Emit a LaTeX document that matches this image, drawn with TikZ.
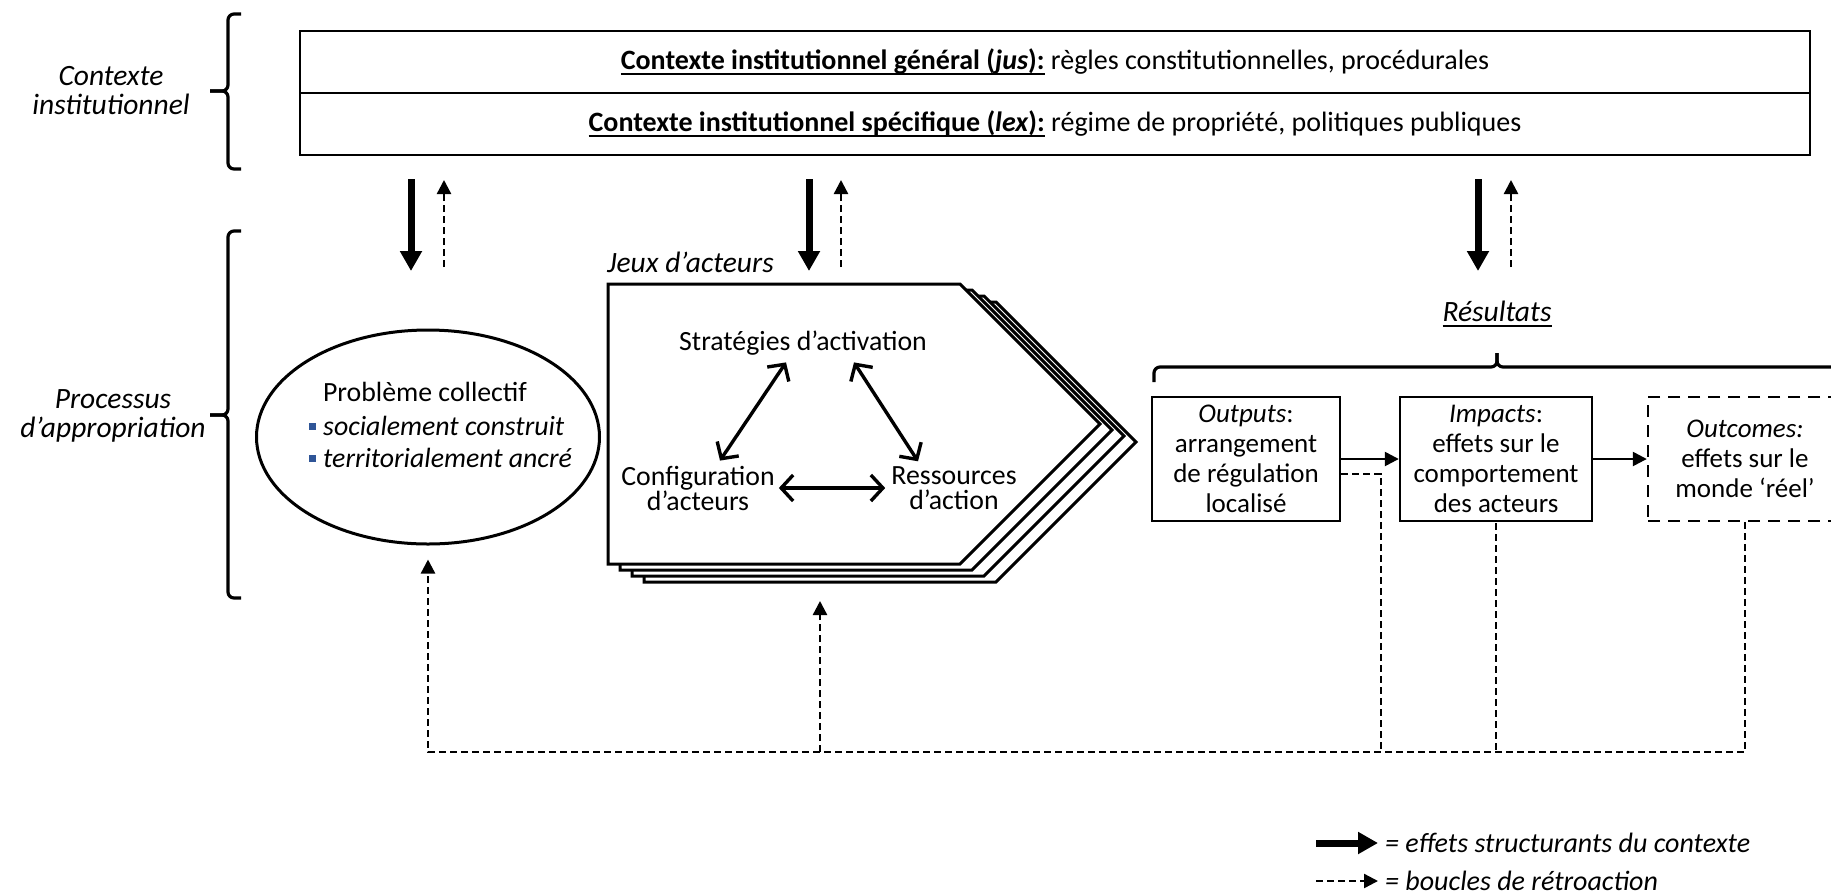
\documentclass[tikz,border=0pt]{standalone}
\usepackage{fontspec}
\setmainfont{Carlito}
\usetikzlibrary{arrows.meta,shapes.geometric,calc}
\definecolor{bulletblue}{RGB}{47,85,151}
\newcommand{\sqbullet}{\textcolor{bulletblue}{\rule[6pt]{7pt}{7pt}}\hspace{7pt}}
% thick underline drawn as a rule below the text box
\newcommand{\thickul}[1]{\setbox0\hbox{#1}\rlap{\rule[-6pt]{\wd0}{2.4pt}}\box0\relax}

\begin{document}
\begin{tikzpicture}[x=1pt,y=-1pt,
  every node/.style={inner sep=0pt},
  body/.style={font=\fontsize{27}{30}\selectfont},
  bodyl/.style={font=\fontsize{27.8}{30}\selectfont},
  head/.style={font=\itshape\fontsize{29.5}{29}\selectfont, align=center},
  ctxbox/.style={draw, line width=2.6pt, minimum width=1510pt, minimum height=62pt, font=\fontsize{28}{30}\selectfont},
  resbox/.style={draw, line width=2.4pt, minimum height=124pt, align=center, body},
  bracestyle/.style={line width=3.2pt, rounded corners=6pt},
  jeux/.style={draw, line width=3pt, fill=white, line join=miter},
  struct/.style={line width=7pt, -{Triangle[length=20pt,width=21pt]}},
  fback/.style={line width=2.4pt, dash pattern=on 7pt off 4pt},
  fbarrow/.style={fback, -{Triangle[length=14pt,width=14pt]}},
  flow/.style={line width=2.4pt, -{Triangle[length=14pt,width=14pt]}},
  dbl/.style={line width=3.4pt, {Straight Barb[length=12pt,width=26pt]}-{Straight Barb[length=12pt,width=26pt]}},
]
\useasboundingbox (0,0) rectangle (1831,895);
\clip (0,0) rectangle (1831,895);

% side labels and their braces
\node[head] (lblctx) at (111,91) {Contexte\\institutionnel};
\node[head] (lblproc) at (113,416) {Processus\\d’appropriation};
\draw[bracestyle] (241,14) -- (228,14) -- (228,91) -- (210,91);
\draw[bracestyle] (210,91) -- (228,91) -- (228,169) -- (241,169);
\draw[bracestyle] (241,231) -- (228,231) -- (228,415) -- (210,415);
\draw[bracestyle] (210,415) -- (228,415) -- (228,598) -- (241,598);

% institutional context
\node[ctxbox] (ctxgen) at (1055,62) {\thickul{\bfseries Contexte institutionnel général (\textit{jus}):} règles constitutionnelles, procédurales};
\node[ctxbox] (ctxspec) at (1055,124) {\thickul{\bfseries Contexte institutionnel spécifique (\textit{lex}):} régime de propriété, politiques publiques};

% structuring effects and feedback between the levels
\foreach \n/\xa/\xb in {1/411/444, 2/809/841, 3/1478/1511}{
  \coordinate (down\n s) at (\xa,179);
  \coordinate (down\n e) at (\xa,271);
  \coordinate (up\n s) at (\xb,267);
  \coordinate (up\n e) at (\xb,180);
  \draw[struct] (down\n s) -- (down\n e);
  \draw[fbarrow] (up\n s) -- (up\n e);
}

% collective problem
\node[draw, ellipse, line width=3pt, minimum width=343pt, minimum height=214pt] (problem) at (428,437) {};
\node[bodyl] (probtitle) at (425,392) {Problème collectif};
\node[bodyl, anchor=west] (bullet1) at (309,426) {\sqbullet\textit{socialement construit}};
\node[bodyl, anchor=west] (bullet2) at (309,458) {\sqbullet\textit{territorialement ancré}};

% actor games: stacked pentagons
\node[head, anchor=west] (jeuxlbl) at (607,262) {Jeux d’acteurs};
\foreach \k in {3,2,1,0}{
  \draw[jeux, shift={(12*\k,6*\k)}] (608,284) -- (960,284) -- (1100,424) -- (960,564) -- (608,564) -- cycle;
}
\coordinate (jeuxfoot) at (820,601);

\node[bodyl] (strat) at (803,343) {Stratégies d’activation};
\node[bodyl, align=center, font=\fontsize{27.8}{25}\selectfont] (config) at (698,488) {Configuration\\d’acteurs};
\node[bodyl, align=center, font=\fontsize{27.8}{25}\selectfont] (ress) at (954,488) {Ressources\\d’action};
\draw[dbl] ([shift={(-17pt,-7pt)}]strat.south) -- ([shift={(22pt,5pt)}]config.north);
\draw[dbl] ([shift={(51pt,-7pt)}]strat.south) -- ([shift={(-36pt,5pt)}]ress.north);
\draw[dbl, shorten <=4pt, shorten >=6pt] (config.east) -- (ress.west);

% results
\node[head] (reslbl) at (1497,314) {\thickul{Résultats}};
\draw[bracestyle] (1154,382) -- (1154,367) -- (1497,367) -- (1497,353);
\draw[bracestyle] (1497,353) -- (1497,367) -- (1860,367);

\node[resbox, minimum width=188pt] (outputs) at (1246,459) {\textit{Outputs}:\\arrangement\\de régulation\\localisé};
\node[resbox, minimum width=192pt] (impacts) at (1496,459) {\textit{Impacts}:\\effets sur le\\comportement\\des acteurs};
\node[resbox, minimum width=194pt, dash pattern=on 12pt off 8pt] (outcomes) at (1745,459) {\textit{Outcomes:}\\effets sur le\\monde ‘réel’};
\draw[flow] (outputs.east) -- (impacts.west);
\draw[flow] (impacts.east) -- (outcomes.west);

% feedback loops
\coordinate (fbcorner) at (1381,752);
\draw[fback] ([yshift=-15pt]outputs.east) -| (fbcorner);
\draw[fback] ([yshift=-1.2pt]impacts.south) -- (impacts.south |- fbcorner);
\draw[fbarrow, shorten >=14pt] (outcomes.south) -- (outcomes.south |- fbcorner) -- (problem.south |- fbcorner) -- (problem.south);
\draw[fbarrow] (jeuxfoot |- fbcorner) -- (jeuxfoot);

% legend
\coordinate (lg1s) at (1316,843);
\coordinate (lg1e) at (1378,843);
\coordinate (lg2s) at (1316,881);
\coordinate (lg2e) at (1378,881);
\draw[struct] (lg1s) -- (lg1e);
\draw[fbarrow] (lg2s) -- (lg2e);
\node[anchor=west, font=\itshape\fontsize{28}{30}\selectfont] (lgtext1) at (1385,843) {= effets structurants du contexte};
\node[anchor=west, font=\itshape\fontsize{28}{30}\selectfont] (lgtext2) at (1385,881) {= boucles de rétroaction};
\end{tikzpicture}
\end{document}
